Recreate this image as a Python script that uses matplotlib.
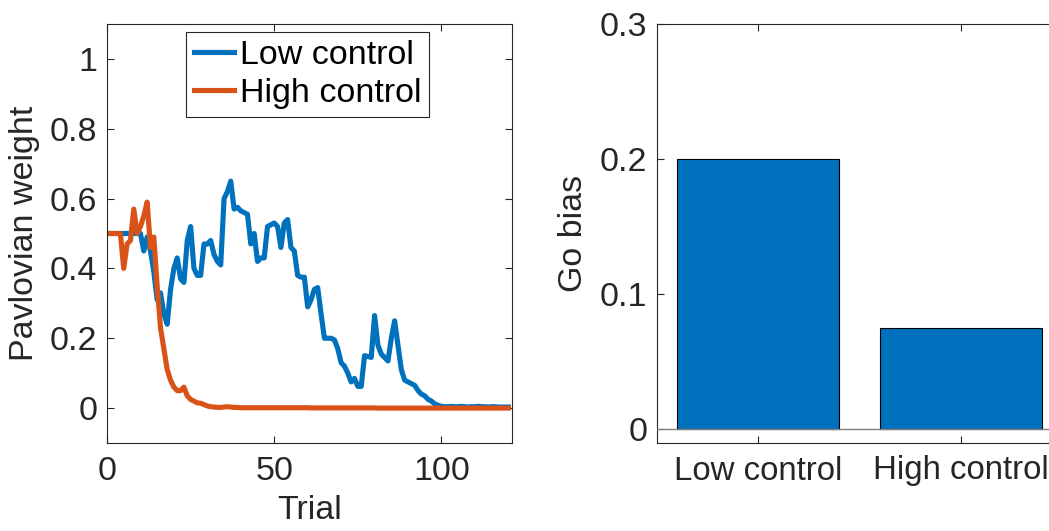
import numpy as np
import matplotlib
matplotlib.use("Agg")
import matplotlib.pyplot as plt

plt.rcParams['font.family'] = ['Liberation Sans', 'DejaVu Sans']

trials = list(range(1, 121))
low_control = [
    0.5, 0.5, 0.5, 0.5, 0.5, 0.5, 0.5, 0.5, 0.5, 0.5,
    0.45, 0.49, 0.45, 0.39, 0.31, 0.33, 0.27, 0.24, 0.34, 0.40,
    0.43, 0.37, 0.36, 0.48, 0.52, 0.40, 0.38, 0.38, 0.47, 0.47,
    0.48, 0.44, 0.42, 0.41, 0.60, 0.62, 0.65, 0.57, 0.575, 0.565,
    0.56, 0.555, 0.47, 0.50, 0.42, 0.43, 0.43, 0.52, 0.525, 0.53,
    0.52, 0.46, 0.53, 0.54, 0.46, 0.45, 0.38, 0.375, 0.375, 0.29,
    0.31, 0.34, 0.345, 0.27, 0.20, 0.20, 0.20, 0.195, 0.17, 0.13,
    0.12, 0.10, 0.075, 0.085, 0.062, 0.062, 0.15, 0.148, 0.145, 0.265,
    0.18, 0.155, 0.145, 0.135, 0.20, 0.25, 0.18, 0.11, 0.08, 0.075,
    0.07, 0.065, 0.05, 0.04, 0.035, 0.025, 0.02, 0.012, 0.008, 0.005,
    0.004, 0.004, 0.005, 0.004, 0.004, 0.005, 0.004, 0.003, 0.004, 0.004,
    0.005, 0.004, 0.004, 0.003, 0.004, 0.004, 0.003, 0.003, 0.003, 0.003,
]
high_control = [
    0.5, 0.5, 0.5, 0.5, 0.40, 0.47, 0.48, 0.57, 0.50, 0.52,
    0.55, 0.59, 0.46, 0.49, 0.35, 0.23, 0.17, 0.11, 0.08, 0.06,
    0.05, 0.05, 0.06, 0.035, 0.025, 0.02, 0.015, 0.014, 0.01, 0.006,
    0.004, 0.003, 0.002, 0.002, 0.003, 0.004, 0.003, 0.002, 0.002, 0.001,
] + [0.001] * 20 + [0.0005] * 20 + [0.0] * 40

bar_labels = ['Low control', 'High control']
go_bias = [0.2, 0.075]

BLUE = '#0072BD'
ORANGE = '#D95319'
AXC = '#262626'
FS = 24.5

W, H = 1049, 531
fig = plt.figure(figsize=(W / 100, H / 100), dpi=100)

def style(ax):
    for s in ax.spines.values():
        s.set_color(AXC)
        s.set_linewidth(0.8)
    ax.tick_params(direction='in', length=5, width=0.8, colors=AXC,
                   labelsize=FS, top=True, right=True, labelcolor=AXC)

# Left panel
ax1 = fig.add_axes([107 / W, 1 - 443 / H, (511.7 - 107) / W, (443 - 24) / H])
ax1.plot(trials, low_control, color=BLUE, lw=3.7, label='Low control')
ax1.plot(trials, high_control, color=ORANGE, lw=3.7, label='High control')
ax1.set_xlim(0, 121)
ax1.set_ylim(-0.1, 1.1)
ax1.set_xticks([0, 50, 100])
ax1.set_yticks([0, 0.2, 0.4, 0.6, 0.8, 1])
ax1.set_yticklabels(['0', '0.2', '0.4', '0.6', '0.8', '1'])
style(ax1)
ax1.tick_params(axis='x', pad=9)
ax1.tick_params(axis='y', pad=7)
ax1.set_xlabel('Trial', fontsize=FS, color=AXC, labelpad=6)
ax1.set_ylabel('Pavlovian weight', fontsize=FS, color=AXC, labelpad=7)
leg = ax1.legend(loc='upper center', bbox_to_anchor=(0.495, 0.98), fontsize=FS,
                 frameon=True, fancybox=False, edgecolor=AXC, framealpha=1,
                 handlelength=1.2, handletextpad=0.15, borderpad=0.22,
                 labelspacing=0.22, borderaxespad=0.0)
leg.get_frame().set_linewidth(0.8)

# Right panel
ax2 = fig.add_axes([657 / W, 1 - 443 / H, (1062 - 657) / W, (443 - 24) / H])
ax2.bar([1, 2], go_bias, width=0.8, color=BLUE, edgecolor='black', linewidth=0.8, zorder=2)
ax2.axhline(0, color='#7f7f7f', lw=1.0, zorder=3)
ax2.set_xlim(0.5, 2.5)
ax2.set_ylim(-0.01, 0.3)
ax2.set_xticks([1, 2])
ax2.set_xticklabels(bar_labels)
ax2.set_yticks([0, 0.1, 0.2, 0.3])
ax2.set_yticklabels(['0', '0.1', '0.2', '0.3'])
style(ax2)
ax2.tick_params(axis='x', pad=9, labelsize=23.8)
ax2.tick_params(axis='y', pad=7)
ax2.set_ylabel('Go bias', fontsize=FS, color=AXC, labelpad=8)

fig.savefig('out.png', dpi=100)
